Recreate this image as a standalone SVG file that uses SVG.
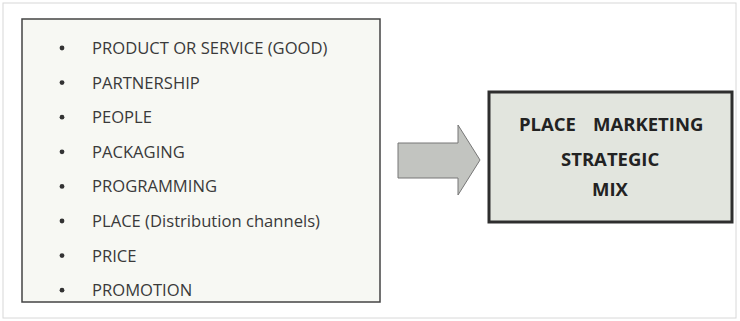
<svg xmlns="http://www.w3.org/2000/svg" width="740" height="321" viewBox="0 0 740 321">
<style>
.item{font-family:"Open Sans","Liberation Sans",sans-serif;font-size:16.6px;fill:#3a3a3a}
.title{font-family:"Open Sans","Liberation Sans",sans-serif;font-size:18.5px;font-weight:bold;fill:#222}
.dot{fill:#333}
</style>
<rect x="0" y="0" width="740" height="321" fill="#ffffff"/>
<rect x="3" y="3" width="733" height="315" fill="none" stroke="#d8d8d8" stroke-width="1"/>
<g id="list">
<rect x="22" y="19" width="358" height="283" fill="#f7f8f3" stroke="#444" stroke-width="1.5"/>
<circle class="dot" cx="62" cy="48" r="2.4"/>
<text class="item" x="92" y="54">PRODUCT OR SERVICE (GOOD)</text>
<circle class="dot" cx="62" cy="82.6" r="2.4"/>
<text class="item" x="92" y="88.6">PARTNERSHIP</text>
<circle class="dot" cx="62" cy="117.2" r="2.4"/>
<text class="item" x="92" y="123.2">PEOPLE</text>
<circle class="dot" cx="62" cy="151.8" r="2.4"/>
<text class="item" x="92" y="157.8">PACKAGING</text>
<circle class="dot" cx="62" cy="186.4" r="2.4"/>
<text class="item" x="92" y="192.4">PROGRAMMING</text>
<circle class="dot" cx="62" cy="221" r="2.4"/>
<text class="item" x="92" y="227">PLACE (Distribution channels)</text>
<circle class="dot" cx="62" cy="255.6" r="2.4"/>
<text class="item" x="92" y="261.6">PRICE</text>
<circle class="dot" cx="62" cy="290.2" r="2.4"/>
<text class="item" x="92" y="296.2">PROMOTION</text>
</g>
<g id="connectors">
<path d="M398,143 H458 V125 L480,160 L458,195 V178 H398 Z" fill="#c2c4c0" stroke="#777" stroke-width="1"/>
</g>
<g id="mix">
<rect x="489" y="92" width="243" height="130" fill="#e2e5de" stroke="#2e2e2e" stroke-width="3"/>
<text class="title" y="131"><tspan x="519">PLACE</tspan><tspan x="593">MARKETING</tspan></text>
<text class="title" x="561" y="166">STRATEGIC</text>
<text class="title" x="592" y="196">MIX</text>
</g>
</svg>
